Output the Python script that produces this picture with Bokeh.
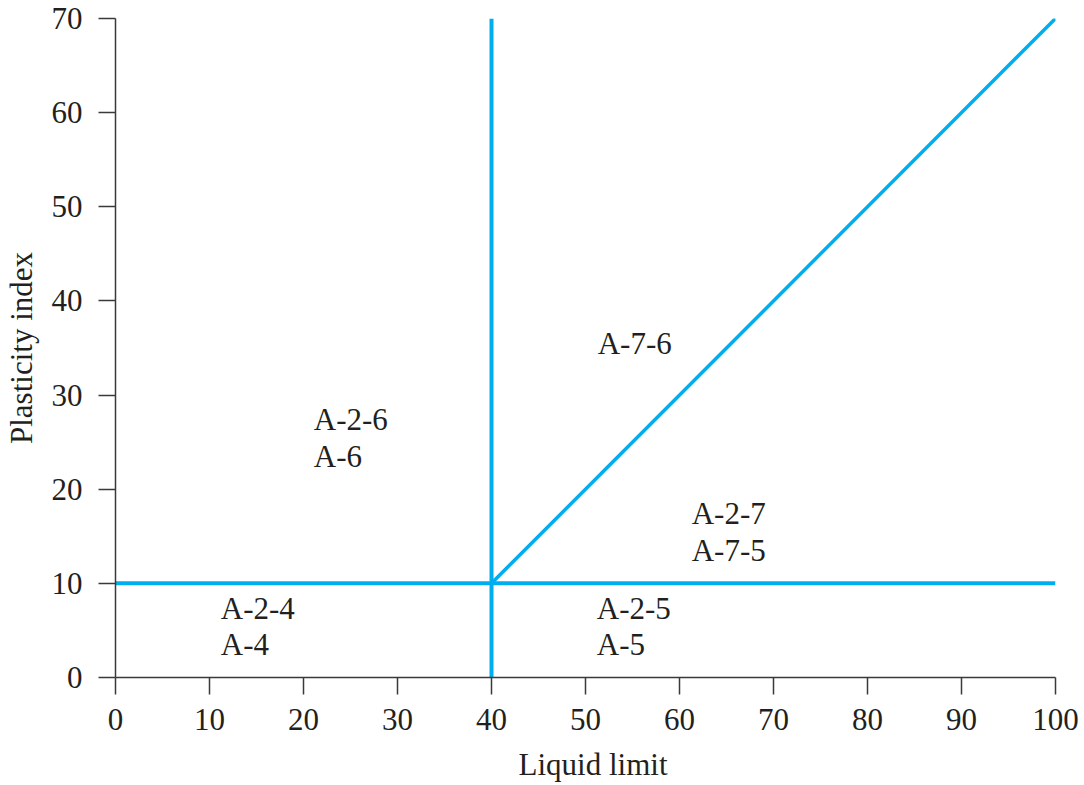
from bokeh.plotting import figure
from bokeh.layouts import column
from bokeh.models import Range1d, FixedTicker
from bokeh.core.properties import value
from bokeh.embed import file_html
from bokeh.resources import INLINE

# Data
x_ticks = [0, 10, 20, 30, 40, 50, 60, 70, 80, 90, 100]
y_ticks = [0, 10, 20, 30, 40, 50, 60, 70]

vert_x = [40, 40]
vert_y = [0, 70]
horiz_x = [0, 100]
horiz_y = [10, 10]
diag_x = [40, 100]
diag_y = [10, 70]

zone_labels = ["A-2-6", "A-6", "A-7-6", "A-2-7", "A-7-5", "A-2-4", "A-4", "A-2-5", "A-5"]
label_x = [21.1, 21.1, 51.3, 61.3, 61.3, 11.2, 11.2, 51.2, 51.2]
label_y = [26.2, 22.3, 34.3, 16.2, 12.3, 6.2, 2.3, 6.2, 2.3]

x_title = "Liquid limit"
y_title = "Plasticity index"

FONT = "Liberation Serif"
FS = "31px"
TEXT_COLOR = "#231F20"
LINE_COLOR = "#00AEEF"
AXIS_COLOR = "#3a3a3a"

x_range = Range1d(0, 100)

p = figure(
    width=1080, height=747,
    x_range=x_range, y_range=Range1d(0, 70),
    output_backend="svg", toolbar_location=None,
    min_border_left=113, min_border_right=25,
    min_border_top=18, min_border_bottom=70,
)
p.outline_line_color = None
p.xgrid.visible = False
p.ygrid.visible = False
p.background_fill_color = "white"
p.border_fill_color = "white"

for ax in (p.xaxis[0], p.yaxis[0]):
    ax.axis_line_color = AXIS_COLOR
    ax.axis_line_width = 1.5
    ax.major_tick_line_color = AXIS_COLOR
    ax.major_tick_line_width = 1.5
    ax.major_tick_out = 17
    ax.major_tick_in = 0
    ax.minor_tick_line_color = None
    ax.major_label_text_font = FONT
    ax.major_label_text_font_size = FS
    ax.major_label_text_color = TEXT_COLOR
    ax.axis_label_text_font = FONT
    ax.axis_label_text_font_size = FS
    ax.axis_label_text_font_style = "normal"
    ax.axis_label_text_color = TEXT_COLOR

p.xaxis[0].ticker = FixedTicker(ticks=x_ticks)
p.yaxis[0].ticker = FixedTicker(ticks=y_ticks)
p.yaxis[0].axis_label = y_title
p.xaxis[0].major_label_standoff = 14
p.yaxis[0].major_label_standoff = 16
p.yaxis[0].axis_label_standoff = 10

p.line(vert_x, vert_y, line_color=LINE_COLOR, line_width=4, line_cap="butt")
p.line(horiz_x, horiz_y, line_color=LINE_COLOR, line_width=4, line_cap="butt")
p.line(diag_x, diag_y, line_color=LINE_COLOR, line_width=3.5, line_cap="butt")

p.text(x=label_x, y=label_y, text=zone_labels, y_offset=-11,
       text_font=value(FONT), text_font_size=FS,
       text_color=TEXT_COLOR, text_align="left", text_baseline="alphabetic")

# strip below the chart carrying the x-axis title
q = figure(
    width=1080, height=37,
    x_range=x_range, y_range=Range1d(0, 37),
    output_backend="svg", toolbar_location=None,
    x_axis_type=None, y_axis_type=None,
    min_border_left=113, min_border_right=25,
    min_border_top=0, min_border_bottom=0,
)
q.outline_line_color = None
q.xgrid.visible = False
q.ygrid.visible = False
q.background_fill_color = "white"
q.border_fill_color = "white"
q.text(x=[50.8], y=[9], text=[x_title], y_offset=-11,
       text_font=value(FONT), text_font_size=FS,
       text_color=TEXT_COLOR, text_align="center", text_baseline="alphabetic")

layout = column(p, q, spacing=0)
open("out.html", "w").write(file_html(layout, INLINE))
